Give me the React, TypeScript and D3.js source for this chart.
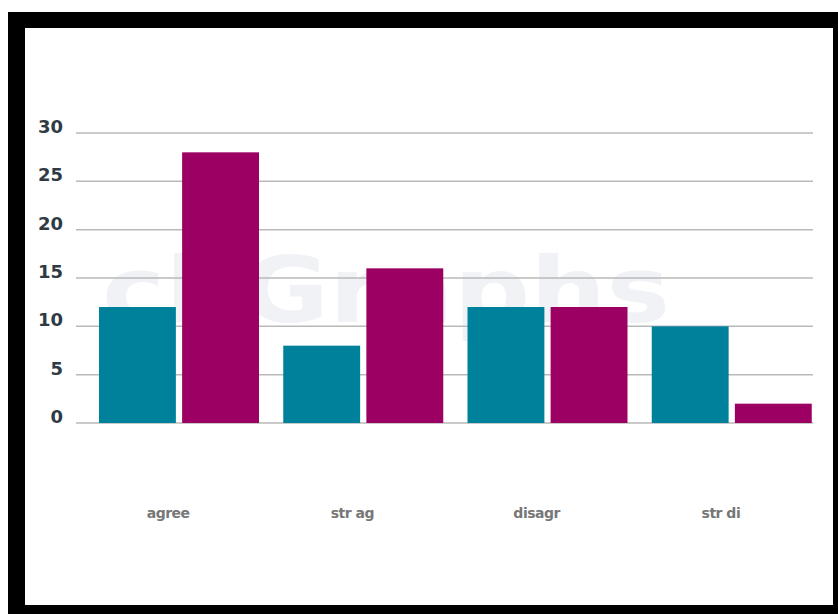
import React from "react";
import * as d3 from "d3";

const categories = ["agree", "str ag", "disagr", "str di"];
const seriesNames = ["A", "B"];
const seriesA = [12, 8, 12, 10];
const seriesB = [28, 16, 12, 2];
const yTicks = [0, 5, 10, 15, 20, 25, 30];
const colors = ["#00819b", "#9c0062"];

export default function App() {
  const W = 838;
  const H = 614;
  const x = d3.scaleBand<string>().domain(categories).range([76, 813]).padding(0);
  const inner = d3.scaleBand<string>().domain(seriesNames).range([23, 183]).paddingInner(0.075);
  const y = d3.scaleLinear().domain([0, 30]).range([423, 133]);
  const values = [seriesA, seriesB];

  return (
    <svg width={W} height={H} style={{ position: "absolute", left: 0, top: 0, background: "#fff" }}>
      <rect x={0} y={0} width={W} height={H} fill="#fff" />
      <rect x={8} y={12} width={W - 8} height={H - 12} fill="#000" />
      <rect x={25} y={28} width={808} height={577} fill="#fff" />
      <text
        x={102}
        y={322}
        fontFamily="'DejaVu Sans', sans-serif"
        fontWeight={700}
        fontSize={90}
        fill="#f0f2f6"
        textLength={568}
        lengthAdjust="spacingAndGlyphs"
      >
        chGraphs
      </text>
      {yTicks.map((t) => (
        <g key={t}>
          <line x1={76} x2={813} y1={y(t)} y2={y(t)} stroke="#b9b9b9" strokeWidth={1.5} />
          <text
            x={63}
            y={y(t)}
            textAnchor="end"
            fontFamily="'DejaVu Sans', sans-serif"
            fontWeight={700}
            fontSize={18}
            fill="#2f3a44"
          >
            {t}
          </text>
        </g>
      ))}
      {categories.map((c, i) => (
        <g key={c} transform={`translate(${x(c)},0)`}>
          {seriesNames.map((s, j) => (
            <rect
              key={s}
              x={inner(s)}
              width={inner.bandwidth()}
              y={y(values[j][i])}
              height={y(0) - y(values[j][i])}
              fill={colors[j]}
            />
          ))}
          <text
            x={x.bandwidth() / 2}
            y={518}
            textAnchor="middle"
            fontFamily="'DejaVu Sans', sans-serif"
            fontWeight={700}
            fontSize={14}
            fill="#777777"
            letterSpacing={-0.5}
          >
            {c}
          </text>
        </g>
      ))}
    </svg>
  );
}
